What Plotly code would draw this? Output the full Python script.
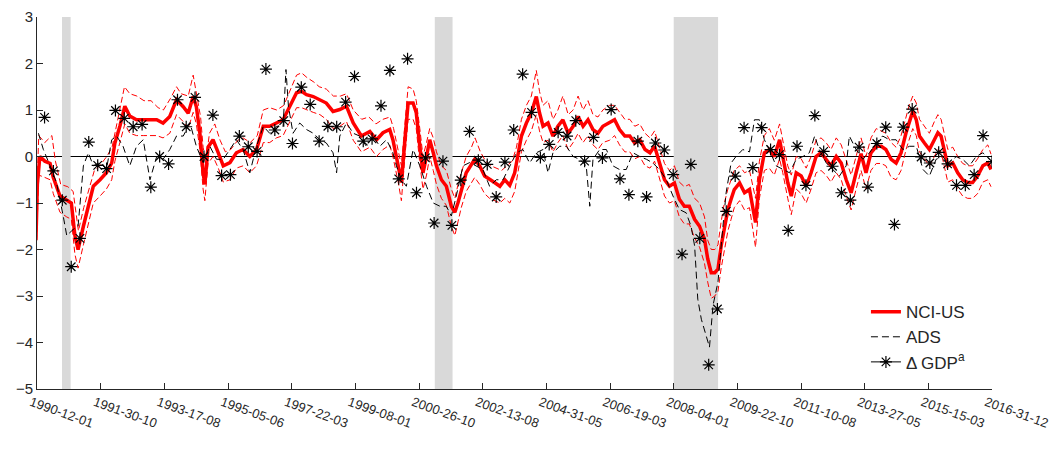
import pandas as pd
import plotly.graph_objects as go

# ---------------- data ----------------
# (decimal year, value)
NCI_US = [
    (1990.00, -1.80), (1990.04, -0.60), (1990.11, 0.00), (1990.25, -0.10), (1990.40, -0.15),
    (1990.49, -0.45), (1990.68, -0.85), (1990.87, -0.95), (1991.00, -1.00), (1991.10, -1.70),
    (1991.19, -2.00), (1991.34, -1.50), (1991.48, -1.07), (1991.62, -0.64), (1991.81, -0.50),
    (1991.99, -0.35), (1992.14, -0.14), (1992.23, 0.29), (1992.37, 0.65), (1992.51, 1.08),
    (1992.65, 0.87), (1992.84, 0.79), (1993.03, 0.79), (1993.22, 0.79), (1993.41, 0.79),
    (1993.59, 0.72), (1993.78, 0.86), (1993.97, 1.22), (1994.16, 1.07), (1994.30, 0.93),
    (1994.44, 1.29), (1994.53, 1.07), (1994.63, 0.50), (1994.72, -0.35), (1994.77, -0.60),
    (1994.86, 0.20), (1995.00, 0.36), (1995.15, 0.08), (1995.29, -0.20), (1995.48, -0.13),
    (1995.66, 0.08), (1995.85, 0.15), (1996.04, 0.00), (1996.23, 0.15), (1996.42, 0.65),
    (1996.60, 0.65), (1996.79, 0.72), (1996.98, 0.79), (1997.17, 1.08), (1997.36, 1.37),
    (1997.50, 1.40), (1997.64, 1.33), (1997.83, 1.29), (1998.02, 1.22), (1998.20, 1.15),
    (1998.39, 0.97), (1998.58, 1.01), (1998.77, 1.08), (1998.96, 0.72), (1999.19, 0.44),
    (1999.43, 0.54), (1999.62, 0.36), (1999.80, 0.51), (1999.99, 0.58), (2000.08, 0.36),
    (2000.23, -0.20), (2000.32, -0.56), (2000.42, 0.36), (2000.51, 1.15), (2000.65, 1.15),
    (2000.74, 0.94), (2000.84, 0.22), (2000.93, -0.35), (2001.03, 0.00), (2001.12, 0.36),
    (2001.22, 0.08), (2001.31, -0.20), (2001.45, -0.50), (2001.59, -0.64), (2001.73, -1.07),
    (2001.83, -1.20), (2001.92, -0.99), (2002.01, -0.71), (2002.15, -0.35), (2002.39, -0.06),
    (2002.53, -0.20), (2002.67, -0.42), (2002.81, -0.50), (2002.95, -0.56), (2003.10, -0.64),
    (2003.24, -0.50), (2003.38, -0.62), (2003.52, -0.35), (2003.57, -0.14), (2003.71, 0.44),
    (2003.85, 0.72), (2003.99, 0.94), (2004.13, 1.29), (2004.22, 0.94), (2004.32, 0.65),
    (2004.46, 0.72), (2004.60, 0.44), (2004.74, 0.65), (2004.88, 0.79), (2005.03, 0.50),
    (2005.17, 0.65), (2005.31, 0.86), (2005.45, 0.65), (2005.59, 0.79), (2005.73, 0.58),
    (2005.87, 0.50), (2006.01, 0.65), (2006.20, 0.72), (2006.34, 0.79), (2006.48, 0.58),
    (2006.63, 0.44), (2006.77, 0.44), (2006.91, 0.29), (2007.05, 0.36), (2007.20, 0.15),
    (2007.34, 0.08), (2007.47, 0.22), (2007.61, -0.14), (2007.75, -0.50), (2007.89, -0.64),
    (2008.03, -0.57), (2008.17, -0.92), (2008.31, -1.07), (2008.45, -1.07), (2008.60, -1.35),
    (2008.74, -1.50), (2008.88, -1.78), (2008.97, -2.20), (2009.07, -2.50), (2009.17, -2.50),
    (2009.26, -2.42), (2009.35, -1.92), (2009.44, -1.50), (2009.54, -1.14), (2009.63, -0.92),
    (2009.72, -0.71), (2009.87, -0.57), (2010.01, -0.78), (2010.15, -0.71), (2010.32, -1.42),
    (2010.43, -0.50), (2010.57, 0.08), (2010.71, 0.15), (2010.85, 0.00), (2011.00, 0.36),
    (2011.09, 0.00), (2011.23, -0.56), (2011.33, -0.85), (2011.47, -0.35), (2011.61, -0.42),
    (2011.75, -0.64), (2011.89, -0.35), (2012.03, 0.00), (2012.17, 0.08), (2012.31, -0.06),
    (2012.45, -0.20), (2012.60, 0.00), (2012.74, -0.14), (2012.88, -0.50), (2013.02, -0.78),
    (2013.16, -0.35), (2013.30, 0.06), (2013.44, -0.35), (2013.58, 0.08), (2013.73, 0.22),
    (2013.87, 0.22), (2014.00, 0.15), (2014.15, -0.06), (2014.29, -0.14), (2014.43, 0.08),
    (2014.57, 0.51), (2014.66, 0.72), (2014.76, 0.97), (2014.86, 0.79), (2014.95, 0.44),
    (2015.09, 0.29), (2015.23, 0.15), (2015.37, 0.36), (2015.47, 0.51), (2015.56, 0.44),
    (2015.66, 0.08), (2015.75, -0.20), (2015.89, -0.14), (2016.03, -0.35), (2016.17, -0.50),
    (2016.31, -0.56), (2016.45, -0.56), (2016.59, -0.42), (2016.74, -0.20), (2016.88, -0.14),
    (2016.97, -0.28),
]

NCI_UPPER = [
    (1990.00, -1.30), (1990.08, 0.45), (1990.25, 0.30), (1990.45, 0.45), (1990.55, -0.10),
    (1990.70, -0.60), (1990.90, -0.65), (1991.05, -0.75), (1991.20, -1.60), (1991.35, -1.10),
    (1991.50, -0.70), (1991.65, -0.30), (1991.80, -0.20), (1992.00, 0.00), (1992.15, 0.20),
    (1992.30, 0.75), (1992.50, 1.50), (1992.65, 1.35), (1992.85, 1.30), (1993.05, 1.20),
    (1993.25, 1.20), (1993.45, 1.05), (1993.60, 1.00), (1993.80, 1.25), (1993.97, 1.50),
    (1994.10, 1.35), (1994.30, 1.30), (1994.44, 1.75), (1994.55, 1.30), (1994.65, 0.85),
    (1994.72, 0.20), (1994.80, -0.10), (1994.90, 0.50), (1995.05, 0.70), (1995.20, 0.35),
    (1995.35, 0.10), (1995.50, 0.15), (1995.70, 0.35), (1995.85, 0.40), (1996.05, 0.30),
    (1996.25, 0.45), (1996.42, 1.00), (1996.60, 1.05), (1996.80, 1.00), (1997.00, 1.10),
    (1997.20, 1.45), (1997.36, 1.75), (1997.50, 1.80), (1997.65, 1.70), (1997.85, 1.60),
    (1998.00, 1.50), (1998.20, 1.45), (1998.40, 1.30), (1998.60, 1.30), (1998.77, 1.35),
    (1998.96, 1.00), (1999.20, 0.80), (1999.40, 0.85), (1999.60, 0.70), (1999.80, 0.80),
    (2000.00, 0.85), (2000.10, 0.60), (2000.23, 0.10), (2000.32, -0.20), (2000.42, 0.70),
    (2000.51, 1.50), (2000.65, 1.45), (2000.74, 1.20), (2000.84, 0.60), (2000.93, 0.00),
    (2001.03, 0.30), (2001.12, 0.60), (2001.22, 0.40), (2001.31, 0.10), (2001.45, -0.20),
    (2001.59, -0.30), (2001.73, -0.70), (2001.83, -0.90), (2001.92, -0.60), (2002.01, -0.35),
    (2002.15, 0.00), (2002.30, 0.20), (2002.40, 0.40), (2002.55, 0.10), (2002.70, -0.10),
    (2002.85, -0.20), (2003.00, -0.25), (2003.15, -0.30), (2003.30, -0.20), (2003.45, -0.10),
    (2003.57, 0.20), (2003.71, 0.80), (2003.85, 1.10), (2003.99, 1.30), (2004.13, 1.85),
    (2004.22, 1.40), (2004.32, 1.10), (2004.46, 1.20), (2004.60, 0.80), (2004.74, 1.00),
    (2004.88, 1.30), (2005.03, 0.90), (2005.17, 1.00), (2005.31, 1.30), (2005.45, 1.00),
    (2005.59, 1.20), (2005.73, 0.90), (2005.87, 0.85), (2006.01, 1.00), (2006.20, 1.10),
    (2006.34, 1.10), (2006.48, 0.95), (2006.63, 0.80), (2006.77, 0.80), (2006.91, 0.65),
    (2007.05, 0.70), (2007.20, 0.50), (2007.34, 0.40), (2007.47, 0.55), (2007.61, 0.20),
    (2007.75, -0.15), (2007.89, -0.30), (2008.03, -0.20), (2008.17, -0.55), (2008.31, -0.65),
    (2008.45, -0.60), (2008.60, -0.90), (2008.74, -1.00), (2008.88, -1.30), (2008.97, -1.80),
    (2009.07, -2.00), (2009.17, -2.00), (2009.26, -1.90), (2009.35, -1.40), (2009.44, -1.00),
    (2009.54, -0.70), (2009.63, -0.50), (2009.72, -0.30), (2009.87, -0.20), (2010.01, -0.35),
    (2010.15, -0.30), (2010.32, -0.90), (2010.43, -0.10), (2010.57, 0.45), (2010.71, 0.60),
    (2010.85, 0.35), (2011.00, 0.70), (2011.09, 0.35), (2011.23, -0.20), (2011.33, -0.40),
    (2011.47, 0.00), (2011.61, -0.05), (2011.75, -0.25), (2011.89, 0.00), (2012.03, 0.35),
    (2012.17, 0.40), (2012.31, 0.30), (2012.45, 0.15), (2012.60, 0.40), (2012.74, 0.25),
    (2012.88, -0.10), (2013.02, -0.40), (2013.16, 0.00), (2013.30, 0.40), (2013.44, 0.00),
    (2013.58, 0.40), (2013.73, 0.60), (2013.87, 0.55), (2014.00, 0.50), (2014.15, 0.30),
    (2014.29, 0.20), (2014.43, 0.45), (2014.57, 0.85), (2014.66, 1.10), (2014.76, 1.30),
    (2014.86, 1.15), (2014.95, 0.80), (2015.09, 0.65), (2015.23, 0.50), (2015.37, 0.75),
    (2015.47, 0.90), (2015.56, 0.80), (2015.66, 0.45), (2015.75, 0.15), (2015.89, 0.20),
    (2016.03, 0.00), (2016.17, -0.15), (2016.31, -0.20), (2016.45, -0.20), (2016.59, -0.05),
    (2016.74, 0.15), (2016.88, 0.25), (2016.97, 0.05),
]

NCI_LOWER = [
    (1990.00, -2.20), (1990.08, -0.40), (1990.25, -0.45), (1990.40, -0.50), (1990.49, -0.80),
    (1990.68, -1.20), (1990.87, -1.30), (1991.00, -1.35), (1991.10, -2.10), (1991.19, -2.40),
    (1991.34, -1.90), (1991.48, -1.45), (1991.62, -1.00), (1991.81, -0.85), (1991.99, -0.70),
    (1992.14, -0.50), (1992.23, -0.10), (1992.37, 0.30), (1992.51, 0.70), (1992.65, 0.50),
    (1992.84, 0.45), (1993.03, 0.45), (1993.22, 0.45), (1993.41, 0.45), (1993.59, 0.40),
    (1993.78, 0.50), (1993.97, 0.90), (1994.16, 0.75), (1994.30, 0.60), (1994.44, 0.95),
    (1994.53, 0.70), (1994.63, 0.15), (1994.72, -0.70), (1994.77, -0.95), (1994.86, -0.15),
    (1995.00, 0.00), (1995.15, -0.25), (1995.29, -0.55), (1995.48, -0.50), (1995.66, -0.25),
    (1995.85, -0.20), (1996.04, -0.35), (1996.23, -0.20), (1996.42, 0.30), (1996.60, 0.30),
    (1996.79, 0.40), (1996.98, 0.45), (1997.17, 0.75), (1997.36, 1.05), (1997.50, 1.05),
    (1997.64, 1.00), (1997.83, 0.95), (1998.02, 0.90), (1998.20, 0.80), (1998.39, 0.60),
    (1998.58, 0.65), (1998.77, 0.75), (1998.96, 0.35), (1999.19, 0.10), (1999.43, 0.20),
    (1999.62, 0.00), (1999.80, 0.15), (1999.99, 0.25), (2000.08, 0.00), (2000.23, -0.55),
    (2000.32, -0.95), (2000.42, 0.00), (2000.51, 0.80), (2000.65, 0.80), (2000.74, 0.60),
    (2000.84, -0.15), (2000.93, -0.70), (2001.03, -0.40), (2001.12, 0.00), (2001.22, -0.30),
    (2001.31, -0.60), (2001.45, -0.90), (2001.59, -1.05), (2001.73, -1.50), (2001.83, -1.70),
    (2001.92, -1.40), (2002.01, -1.10), (2002.15, -0.75), (2002.39, -0.45), (2002.53, -0.60),
    (2002.67, -0.80), (2002.81, -0.90), (2002.95, -0.95), (2003.10, -1.00), (2003.24, -0.90),
    (2003.38, -1.00), (2003.52, -0.75), (2003.57, -0.50), (2003.71, 0.10), (2003.85, 0.35),
    (2003.99, 0.55), (2004.13, 0.90), (2004.22, 0.55), (2004.32, 0.30), (2004.46, 0.35),
    (2004.60, 0.10), (2004.74, 0.30), (2004.88, 0.45), (2005.03, 0.15), (2005.17, 0.30),
    (2005.31, 0.50), (2005.45, 0.30), (2005.59, 0.45), (2005.73, 0.25), (2005.87, 0.15),
    (2006.01, 0.30), (2006.20, 0.35), (2006.34, 0.45), (2006.48, 0.25), (2006.63, 0.10),
    (2006.77, 0.10), (2006.91, -0.05), (2007.05, 0.00), (2007.20, -0.20), (2007.34, -0.25),
    (2007.47, -0.10), (2007.61, -0.50), (2007.75, -0.85), (2007.89, -1.00), (2008.03, -0.95),
    (2008.17, -1.30), (2008.31, -1.45), (2008.45, -1.45), (2008.60, -1.75), (2008.74, -1.95),
    (2008.88, -2.30), (2008.97, -2.70), (2009.07, -3.05), (2009.17, -3.00), (2009.26, -2.90),
    (2009.35, -2.40), (2009.44, -2.00), (2009.54, -1.60), (2009.63, -1.35), (2009.72, -1.10),
    (2009.87, -0.95), (2010.01, -1.15), (2010.15, -1.10), (2010.32, -1.95), (2010.43, -0.90),
    (2010.57, -0.30), (2010.71, -0.25), (2010.85, -0.40), (2011.00, -0.05), (2011.09, -0.35),
    (2011.23, -0.90), (2011.33, -1.25), (2011.47, -0.70), (2011.61, -0.80), (2011.75, -1.00),
    (2011.89, -0.70), (2012.03, -0.35), (2012.17, -0.30), (2012.31, -0.40), (2012.45, -0.55),
    (2012.60, -0.35), (2012.74, -0.50), (2012.88, -0.85), (2013.02, -1.15), (2013.16, -0.70),
    (2013.30, -0.30), (2013.44, -0.70), (2013.58, -0.30), (2013.73, -0.15), (2013.87, -0.15),
    (2014.00, -0.20), (2014.15, -0.45), (2014.29, -0.50), (2014.43, -0.30), (2014.57, 0.15),
    (2014.66, 0.35), (2014.76, 0.60), (2014.86, 0.45), (2014.95, 0.10), (2015.09, -0.05),
    (2015.23, -0.20), (2015.37, 0.00), (2015.47, 0.15), (2015.56, 0.10), (2015.66, -0.25),
    (2015.75, -0.55), (2015.89, -0.50), (2016.03, -0.70), (2016.17, -0.85), (2016.31, -0.90),
    (2016.45, -0.90), (2016.59, -0.80), (2016.74, -0.55), (2016.88, -0.50), (2016.97, -0.65),
]

ADS = [
    (1990.07, 0.50), (1990.21, 0.15), (1990.40, -0.20), (1990.58, -0.56), (1990.77, -1.28),
    (1990.87, -1.70), (1991.05, -1.57), (1991.19, -1.50), (1991.34, -0.20), (1991.48, 0.08),
    (1991.62, -0.20), (1991.81, -0.13), (1991.99, -0.28), (1992.14, 0.36), (1992.28, 0.44),
    (1992.46, 0.22), (1992.65, -0.20), (1992.84, 0.22), (1993.03, 0.36), (1993.22, -0.50),
    (1993.41, 0.00), (1993.59, -0.06), (1993.78, 0.15), (1993.97, 0.44), (1994.16, 0.44),
    (1994.35, 0.72), (1994.53, 0.22), (1994.72, -0.13), (1994.91, 0.22), (1995.10, -0.06),
    (1995.29, -0.06), (1995.48, 0.15), (1995.66, 0.36), (1995.85, 0.15), (1996.04, -0.35),
    (1996.23, 0.22), (1996.42, 0.65), (1996.60, 0.50), (1996.79, 0.65), (1996.98, 0.65),
    (1997.06, 1.87), (1997.13, 1.08), (1997.26, 0.50), (1997.45, 0.72), (1997.64, 0.58),
    (1997.83, 0.50), (1998.02, 0.36), (1998.20, 0.29), (1998.39, 0.08), (1998.49, -0.35),
    (1998.58, 0.44), (1998.77, 0.72), (1998.96, 0.50), (1999.14, 0.44), (1999.33, 0.22),
    (1999.52, 0.44), (1999.71, 0.22), (1999.90, 0.36), (2000.08, 0.08), (2000.18, -0.20),
    (2000.32, -0.50), (2000.46, -0.64), (2000.65, 0.15), (2000.84, -0.20), (2001.03, -0.64),
    (2001.22, -1.00), (2001.41, -1.07), (2001.59, -1.07), (2001.73, -1.28), (2001.87, -0.85),
    (2002.06, -0.20), (2002.25, -0.13), (2002.44, -0.20), (2002.62, -0.28), (2002.81, -0.64),
    (2003.00, -0.50), (2003.19, -0.50), (2003.38, -0.20), (2003.57, 0.08), (2003.75, 0.15),
    (2003.94, -0.14), (2004.13, 0.08), (2004.32, 0.15), (2004.46, -0.35), (2004.60, 0.08),
    (2004.79, 0.22), (2004.98, 0.22), (2005.17, 0.00), (2005.35, -0.06), (2005.54, -0.20),
    (2005.64, -1.07), (2005.73, -0.06), (2005.92, 0.15), (2006.11, 0.15), (2006.29, -0.20),
    (2006.48, -0.28), (2006.67, -0.28), (2006.86, 0.08), (2007.05, 0.00), (2007.24, -0.06),
    (2007.42, -0.14), (2007.61, -0.28), (2007.80, -0.50), (2007.99, -0.85), (2008.17, -1.14),
    (2008.36, -1.21), (2008.50, -1.50), (2008.60, -1.92), (2008.69, -3.07), (2008.79, -3.50),
    (2008.93, -3.90), (2009.02, -4.10), (2009.12, -3.20), (2009.26, -2.70), (2009.40, -1.50),
    (2009.49, -0.78), (2009.63, -0.14), (2009.77, 0.00), (2009.96, 0.15), (2010.15, 0.10),
    (2010.29, 0.79), (2010.43, 0.79), (2010.57, 0.36), (2010.71, 0.15), (2010.90, -0.20),
    (2011.09, -0.28), (2011.28, -0.35), (2011.47, -0.06), (2011.66, 0.00), (2011.84, 0.08),
    (2011.99, 0.44), (2012.12, 0.15), (2012.31, -0.13), (2012.50, -0.28), (2012.69, -0.42),
    (2012.88, -0.20), (2012.97, 0.44), (2013.16, 0.15), (2013.35, -0.06), (2013.54, 0.08),
    (2013.73, 0.29), (2013.91, 0.44), (2014.10, 0.36), (2014.29, 0.36), (2014.48, 0.15),
    (2014.67, 0.22), (2014.86, 0.22), (2015.05, -0.28), (2015.23, -0.42), (2015.42, -0.06),
    (2015.61, 0.00), (2015.80, -0.20), (2015.98, 0.00), (2016.17, -0.06), (2016.36, -0.20),
    (2016.55, 0.00), (2016.74, 0.08), (2016.93, -0.06),
]

# quarterly GDP growth (standardised), 1990Q1 .. 2016Q4
GDP_VALUES = [
    0.84, -0.31, -0.94, -2.37, -1.76, 0.31, -0.19, -0.26, 0.99, 0.82, 0.64, 0.69,
    -0.66, 0.00, -0.16, 1.22, 0.64, 1.27, 0.00, 0.89, -0.41, -0.39, 0.44, 0.21,
    0.11, 1.88, 0.57, 0.77, 0.28, 1.49, 1.12, 0.33, 0.65, 0.64, 1.17, 1.72,
    0.33, 0.38, 1.09, 1.85, -0.48, 2.10, -0.78, -0.03, -1.43, -0.10, -1.48, -0.51,
    0.54, -0.08, -0.17, -0.87, -0.12, 0.57, 1.77, 0.95, -0.02, 0.26, 0.52, 0.44,
    0.77, -0.10, 0.41, -0.03, 1.01, -0.48, -0.82, 0.33, -0.87, 0.29, 0.14, -0.39,
    -2.10, -0.17, -1.76, -4.48, -3.28, -1.18, -0.42, 0.62, -0.24, 0.62, 0.15, 0.04,
    -1.59, 0.22, -0.62, 0.88, 0.11, -0.21, -0.78, -0.94, 0.20, -0.66, 0.28, 0.63,
    -1.46, 0.63, 1.02, -0.01, -0.14, 0.09, -0.16, -0.62, -0.62, -0.39, 0.45, -0.11,
]
GDP_START, GDP_END = "1990-03-31", "2016-12-31"

RECESSIONS = [("1990-09-27", "1990-12-25"), ("2001-04-07", "2001-10-07"), ("2008-01-05", "2009-04-07")]

X_START, X_END = "1990-01-12", "2016-12-31"
TICK_LABELS = ["1990-12-01", "1991-30-10", "1993-17-08", "1995-05-06", "1997-22-03",
               "1999-08-01", "2000-26-10", "2002-13-08", "2004-31-05", "2006-19-03",
               "2008-04-01", "2009-22-10", "2011-10-08", "2013-27-05", "2015-15-03",
               "2016-31-12"]
Y_TICKS = [-5, -4, -3, -2, -1, 0, 1, 2, 3]

# ---------------- helpers ----------------
BASE = pd.Timestamp("1990-01-01")


def to_dates(pairs):
    return [BASE + pd.Timedelta(days=(t - 1990.0) * 365.25) for t, _ in pairs]


def vals(pairs):
    return [v for _, v in pairs]


x0, x1 = pd.Timestamp(X_START), pd.Timestamp(X_END)
n = len(TICK_LABELS)
tickvals = [x0 + (x1 - x0) * i / (n - 1) for i in range(n)]
gdp_dates = pd.date_range(GDP_START, GDP_END, freq="QE")

AXIS_COL = "#262626"
FONT = "Liberation Sans, Arial, Helvetica, sans-serif"

fig = go.Figure()

fig.add_trace(go.Scatter(x=to_dates(NCI_UPPER), y=vals(NCI_UPPER), mode="lines",
                         line=dict(color="#ff0000", width=1, dash="6px,3px"),
                         showlegend=False, hoverinfo="skip"))
fig.add_trace(go.Scatter(x=to_dates(NCI_LOWER), y=vals(NCI_LOWER), mode="lines",
                         line=dict(color="#ff0000", width=1, dash="6px,3px"),
                         showlegend=False, hoverinfo="skip"))
fig.add_trace(go.Scatter(x=to_dates(NCI_US), y=vals(NCI_US), mode="lines", name="NCI-US",
                         line=dict(color="#ff0000", width=3.5)))
fig.add_trace(go.Scatter(x=to_dates(ADS), y=vals(ADS), mode="lines", name="ADS",
                         line=dict(color="#000000", width=1, dash="7px,4px")))
fig.add_trace(go.Scatter(x=gdp_dates, y=GDP_VALUES, mode="markers", showlegend=False,
                         marker=dict(symbol="asterisk-open", size=10, color="#000000",
                                     line=dict(color="#000000", width=1.2))))
# legend entry for GDP (line + asterisk symbol as in the reference legend)
fig.add_trace(go.Scatter(x=[x0], y=[None], mode="lines+markers", name="Δ GDP<sup>a</sup>",
                         line=dict(color="#000000", width=1),
                         marker=dict(symbol="asterisk-open", size=10, color="#000000",
                                     line=dict(color="#000000", width=1.2))))

shapes = []
for s, e in RECESSIONS:
    shapes.append(dict(type="rect", xref="x", yref="y", x0=s, x1=e, y0=-5, y1=3,
                       fillcolor="#d9d9d9", line=dict(width=0), layer="below"))
shapes.append(dict(type="line", xref="paper", yref="y", x0=0, x1=1, y0=0, y1=0,
                   line=dict(color="#000000", width=1), layer="below"))

# the page body adds an 8 px margin, so the figure is 8 px smaller than the window
fig.update_layout(
    width=1054, height=442,
    margin=dict(l=29, r=70, t=9, b=61, autoexpand=False),
    paper_bgcolor="white", plot_bgcolor="white",
    font=dict(family=FONT, color=AXIS_COL),
    shapes=shapes,
    showlegend=True,
    legend=dict(x=0.868, y=0.255, xanchor="left", yanchor="top",
                bgcolor="rgba(255,255,255,0)", font=dict(size=17, color=AXIS_COL),
                tracegroupgap=0),
    xaxis=dict(range=[x0, x1], tickvals=tickvals, ticktext=TICK_LABELS, tickangle=20,
               automargin=False, ticklabelshift=-6,
               showgrid=False, zeroline=False, showline=True, linecolor=AXIS_COL,
               linewidth=1, ticks="inside", ticklen=6, tickcolor=AXIS_COL,
               tickfont=dict(size=13, color=AXIS_COL)),
    yaxis=dict(range=[-5, 3], tickvals=Y_TICKS, showgrid=False, zeroline=False,
               automargin=False,
               showline=True, linecolor=AXIS_COL, linewidth=1, ticks="inside",
               ticklen=6, tickcolor=AXIS_COL, tickfont=dict(size=15, color=AXIS_COL)),
)

fig.write_html("out.html")
